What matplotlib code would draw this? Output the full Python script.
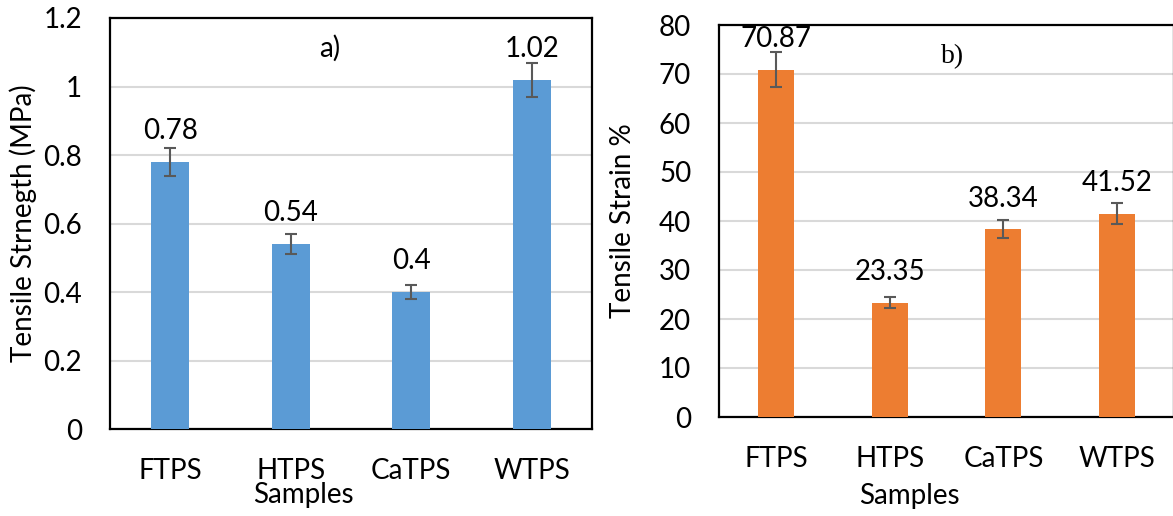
import matplotlib
matplotlib.use("Agg")
import matplotlib.pyplot as plt

samples = ["FTPS", "HTPS", "CaTPS", "WTPS"]
strength = [0.78, 0.54, 0.4, 1.02]
strength_err = [0.04, 0.028, 0.02, 0.05]
strain = [70.87, 23.35, 38.34, 41.52]
strain_err = [3.6, 1.2, 1.9, 2.1]

plt.rcParams['font.family'] = ['Lato', 'DejaVu Sans']

W, H = 1173, 516
FS = 20
fig = plt.figure(figsize=(W / 100, H / 100), dpi=100)

def box(l, t, r, b):
    return [l / W, 1 - b / H, (r - l) / W, (b - t) / H]

def panel(ax, vals, errs, color, ymax, step, fmt, ylabel, tag, tagxy, tagfont, samples_xy):
    x = range(len(samples))
    ax.bar(x, vals, width=0.315, color=color, zorder=3)
    ax.errorbar(x, vals, yerr=errs, fmt='none', ecolor='#595959',
                elinewidth=1.5, capsize=4.5, capthick=1.5, zorder=4)
    for xi, v in zip(x, vals):
        ax.annotate(fmt(v), (xi, v), xytext=(0, 22), textcoords='offset points',
                    ha='center', va='center', fontsize=FS)
    ax.set_xlim(-0.5, len(samples) - 0.5)
    ax.set_ylim(0, ymax)
    ticks = [i * step for i in range(int(round(ymax / step)) + 1)]
    ax.set_yticks(ticks)
    ax.set_yticklabels([f"{t:g}" for t in ticks])
    ax.set_xticks(list(x))
    ax.set_xticklabels(samples)
    ax.tick_params(axis='both', length=0, labelsize=FS)
    ax.tick_params(axis='y', pad=20)
    ax.tick_params(axis='x', pad=21)
    ax.grid(axis='y', color='#D9D9D9', linewidth=1.5, zorder=0)
    for s in ax.spines.values():
        s.set_linewidth(1.6)
        s.set_color('black')
    ax.set_ylabel(ylabel, fontsize=FS)
    ax.set_xlabel("Samples", fontsize=FS, va='center')
    ax.xaxis.set_label_coords(*samples_xy)
    ax.text(tagxy[0], tagxy[1], tag, transform=ax.transAxes, ha='center',
            va='center', fontsize=FS, family=tagfont)

ax1 = fig.add_axes(box(110, 18, 592, 429))
panel(ax1, strength, strength_err, '#5B9BD5', 1.2, 0.2, lambda v: f"{v:g}",
      "Tensile Strnegth (MPa)", "a)", ((330 - 110) / 482, (429 - 48) / 411),
      ['Lato', 'DejaVu Sans'], ((303 - 110) / 482, (429 - 495) / 411))
ax1.yaxis.set_label_coords(-(110 - 23) / 482, 0.5)
ax1.yaxis.label.set_va('center')

ax2 = fig.add_axes(box(719, 25, 1174, 417))
panel(ax2, strain, strain_err, '#ED7D31', 80, 10, lambda v: f"{v:.2f}",
      "Tensile Strain %", "b)", ((953 - 719) / 455, (417 - 57) / 392),
      ['Liberation Serif', 'DejaVu Serif'], ((909 - 719) / 455, (417 - 496) / 392))
ax2.yaxis.set_label_coords(-(719 - 623) / 455, 0.5)
ax2.yaxis.label.set_va('center')

fig.savefig("out.png", dpi=100)
